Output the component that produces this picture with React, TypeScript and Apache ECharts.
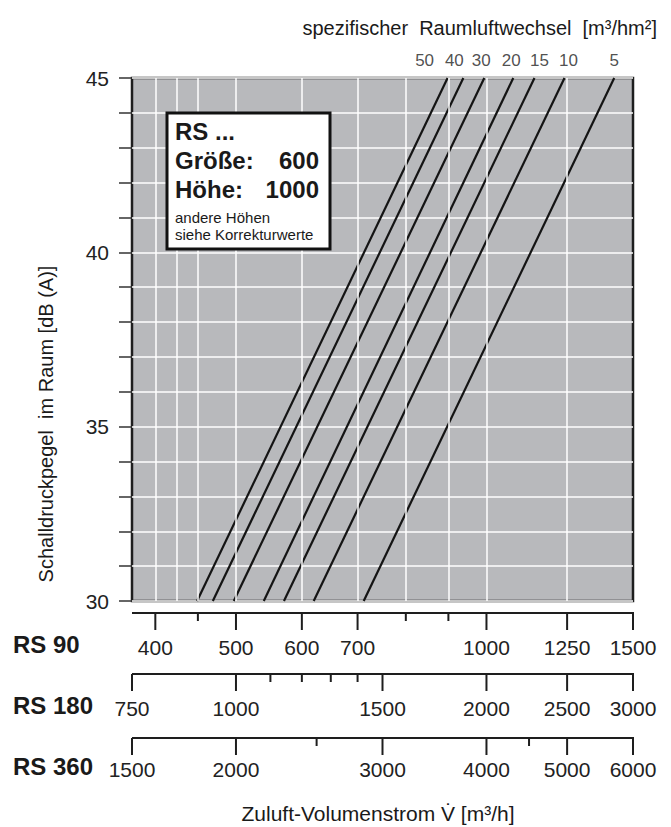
import React, { useEffect, useRef } from "react";
import * as echarts from "echarts";

const FONT = "'Liberation Sans', Arial, Helvetica, sans-serif";

// spezifischer Raumluftwechsel [m³/hm²] – one curve each
const rateLabels = ["50", "40", "30", "20", "15", "10", "5"];
// RS 90 Zuluft-Volumenstrom [m³/h] where each curve meets 30 dB(A) and 45 dB(A)
const flowAt30 = [449, 469, 497, 540, 571, 620, 712];
const flowAt45 = [898, 938, 994, 1077, 1142, 1241, 1424];
const levelMin = 30;
const levelMax = 45;

// y axis
const yLabelValues = [30, 35, 40, 45];
// white vertical grid lines (RS 90 flow)
const gridFlows = [400, 425, 450, 500, 600, 700, 800, 900, 1000, 1250];

// bottom scales
const flowMin = 375;
const flowMax = 1500;
const rowNames = ["RS 90", "RS 180", "RS 360"];
const rowFactors = [1, 2, 4];
const rs90Major = [400, 500, 600, 700, 1000, 1250, 1500];
const rs90Minor = [450, 800, 900];
const rs180Major = [750, 1000, 1500, 2000, 2500, 3000];
const rs180Minor = [1100, 1200, 1300, 1400];
const rs360Major = [1500, 2000, 3000, 4000, 5000, 6000];
const rs360Minor = [2500, 4500];

// styling (pixels)
const rowLineOffset = [12, 73, 137];
const rowLabelY = [645, 706, 767];
const rateLabelDx = [-23, -9, -3, -2, 5, 4, 0];

type ScaleItem = { kind: "line" | "major" | "minor"; row: number; x: number; label?: string };

function buildScaleItems(): ScaleItem[] {
  const majors = [rs90Major, rs180Major, rs360Major];
  const minors = [rs90Minor, rs180Minor, rs360Minor];
  const items: ScaleItem[] = [];
  for (let r = 0; r < 3; r++) {
    items.push({ kind: "line", row: r, x: flowMin });
    majors[r].forEach((v) => items.push({ kind: "major", row: r, x: v / rowFactors[r], label: String(v) }));
    minors[r].forEach((v) => items.push({ kind: "minor", row: r, x: v / rowFactors[r] }));
  }
  return items;
}

function txt(t: string, x: number, y: number, font: string, align: string, extra: any = {}) {
  return {
    type: "text",
    x,
    y,
    z: 100,
    ...extra,
    style: {
      text: t,
      font,
      fill: "#1a1a1a",
      textAlign: align,
      textVerticalAlign: "middle",
      align,
      verticalAlign: "middle",
    },
  };
}

export default function App() {
  const ref = useRef<HTMLDivElement>(null);

  useEffect(() => {
    document.body.style.margin = "0";
    if (!ref.current) return;
    const chart = echarts.init(ref.current, undefined, { renderer: "svg" });
    const scaleItems = buildScaleItems();
    const ink = "#1e1e1e";

    const lineSeries = rateLabels.map((name, i) => ({
      type: "line",
      name,
      data: [
        [flowAt30[i], levelMin],
        [flowAt45[i], levelMax],
      ],
      symbol: "none",
      lineStyle: { color: "#141414", width: 2.2 },
      z: 4,
      silent: true,
    }));

    const option: any = {
      animation: false,
      backgroundColor: "#ffffff",
      textStyle: { fontFamily: FONT },
      grid: {
        left: 132,
        right: 38,
        top: 78,
        bottom: 226,
        show: true,
        backgroundColor: "#b8b9bc",
        borderColor: ink,
        borderWidth: 2.5,
      },
      xAxis: {
        type: "log",
        logBase: 10,
        min: flowMin,
        max: flowMax,
        axisLine: { show: false },
        axisTick: { show: false },
        axisLabel: { show: false },
        splitLine: { show: false },
      },
      yAxis: {
        type: "value",
        min: levelMin,
        max: levelMax,
        interval: 1,
        axisLine: { show: false },
        axisTick: { show: true, length: 13, lineStyle: { color: "#333", width: 1.5 } },
        axisLabel: {
          margin: 23,
          fontSize: 21,
          color: "#222",
          fontFamily: FONT,
          formatter: (v: number) => (yLabelValues.includes(v) ? String(v) : ""),
        },
        splitLine: { show: true, lineStyle: { color: "#ffffff", width: 1.5 } },
      },
      graphic: [
        txt("spezifischer  Raumluftwechsel  [m³/hm²]", 657, 28, `20px ${FONT}`, "right"),
        txt("Schalldruckpegel  im Raum [dB (A)]", 46, 424, `20px ${FONT}`, "center", {
          rotation: Math.PI / 2,
        }),
        {
          type: "rect",
          z: 99,
          shape: { x: 167, y: 113, width: 163, height: 136 },
          style: { fill: "#ffffff", stroke: "#111", lineWidth: 3 },
        },
        txt("RS ...", 175, 131, `bold 24px ${FONT}`, "left"),
        txt("Größe:", 175, 160, `bold 24px ${FONT}`, "left"),
        txt("600", 319, 160, `bold 24px ${FONT}`, "right"),
        txt("Höhe:", 175, 189, `bold 24px ${FONT}`, "left"),
        txt("1000", 319, 189, `bold 24px ${FONT}`, "right"),
        txt("andere Höhen", 175, 217, `15px ${FONT}`, "left"),
        txt("siehe Korrekturwerte", 175, 234, `15px ${FONT}`, "left"),
        ...rowNames.map((n, i) => txt(n, 13, rowLabelY[i] - 1, `bold 24px ${FONT}`, "left")),
        txt("Zuluft-Volumenstrom V\u0307 [m³/h]", 378, 813, `21px ${FONT}`, "center"),
      ],
      series: [
        {
          type: "line",
          data: [[flowMin, levelMin]],
          symbol: "none",
          z: 1,
          silent: true,
          lineStyle: { width: 0 },
          markLine: {
            silent: true,
            symbol: ["none", "none"],
            label: { show: false },
            lineStyle: { color: "#ffffff", width: 1.5, type: "solid" },
            data: gridFlows.map((v) => ({ xAxis: v })),
          },
        },
        ...lineSeries,
        {
          type: "scatter",
          data: flowAt45.map((v, i) => ({
            value: [v, levelMax],
            label: { offset: [rateLabelDx[i], -18] },
          })),
          symbolSize: 1,
          itemStyle: { color: "rgba(0,0,0,0)" },
          silent: true,
          z: 5,
          label: {
            show: true,
            position: "inside",
            fontSize: 17,
            color: "#222",
            fontFamily: FONT,
            formatter: (p: any) => rateLabels[p.dataIndex],
          },
        },
        {
          type: "custom",
          coordinateSystem: "cartesian2d",
          clip: false,
          silent: true,
          z: 5,
          data: scaleItems.map((it) => [it.x, levelMin]),
          encode: { x: 0, y: 1 },
          renderItem: (params: any, api: any) => {
            const it = scaleItems[params.dataIndex];
            const yBase = api.coord([flowMin, levelMin])[1];
            const ly = yBase + rowLineOffset[it.row];
            const stroke = { stroke: ink, lineWidth: 2 };
            if (it.kind === "line") {
              const x0 = api.coord([flowMin, levelMin])[0];
              const x1 = api.coord([flowMax, levelMin])[0];
              return { type: "line", shape: { x1: x0, y1: ly, x2: x1 + 1, y2: ly }, style: stroke };
            }
            const x = api.coord([it.x, levelMin])[0];
            const len = it.kind === "major" ? 17 : 8;
            const children: any[] = [
              { type: "line", shape: { x1: x, y1: ly, x2: x, y2: ly + len }, style: stroke },
            ];
            if (it.label) {
              children.push({
                type: "text",
                x,
                y: rowLabelY[it.row] + 2,
                style: {
                  text: it.label,
                  font: `21px ${FONT}`,
                  fill: "#222",
                  align: "center",
                  verticalAlign: "middle",
                },
              });
            }
            return { type: "group", children };
          },
        },
      ],
    };

    chart.setOption(option);
    return () => chart.dispose();
  }, []);

  return <div ref={ref} style={{ width: 671, height: 827 }} />;
}
